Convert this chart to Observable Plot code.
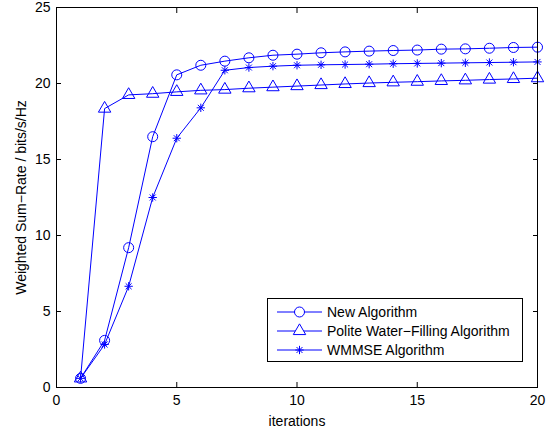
<!DOCTYPE html>
<html><head><meta charset="utf-8">
<script src="https://cdn.jsdelivr.net/npm/d3@7"></script>
<script src="https://cdn.jsdelivr.net/npm/@observablehq/plot@0.6"></script>
<style>
body{margin:0;background:#fff}
#wrap{position:relative;width:559px;height:430px;font-family:"Liberation Sans",Arial,Helvetica,sans-serif}
#legend{position:absolute;left:267px;top:298px}
</style>
</head><body><div id="wrap"></div>
<script>
const iterations = [1,2,3,4,5,6,7,8,9,10,11,12,13,14,15,16,17,18,19,20];
const seriesNames = ["New Algorithm", "Polite Water\u2212Filling Algorithm", "WMMSE Algorithm"];
const newAlgorithm = [0.6,3.1,9.2,16.5,20.57,21.2,21.47,21.69,21.86,21.93,22.02,22.08,22.13,22.17,22.2,22.26,22.28,22.32,22.37,22.39];
const politeWaterFilling = [0.6,18.35,19.25,19.33,19.45,19.55,19.6,19.69,19.76,19.83,19.9,19.97,20.03,20.08,20.12,20.17,20.21,20.26,20.3,20.35];
const wmmse = [0.6,2.83,6.66,12.5,16.4,18.4,20.87,21.05,21.14,21.2,21.23,21.25,21.27,21.3,21.32,21.34,21.36,21.38,21.4,21.42];
const xTicks = [0,5,10,15,20];
const yTicks = [0,5,10,15,20,25];
const xLabel = "iterations";
const yLabel = "Weighted Sum\u2212Rate / bits/s/Hz";

const blue = "#0000ff";
const seriesValues = [newAlgorithm, politeWaterFilling, wmmse];
const rows = [];
seriesNames.forEach((s, i) => iterations.forEach((x, j) => rows.push({series: s, x, y: seriesValues[i][j]})));
const bySeries = s => rows.filter(d => d.series === s);
const blank = () => "";

const plot = Plot.plot({
  width: 559, height: 430,
  marginLeft: 56, marginRight: 22, marginTop: 7, marginBottom: 43,
  style: {fontFamily: "'Liberation Sans', Arial, Helvetica, sans-serif", fontSize: "14px", color: "black", background: "white"},
  x: {domain: [0, 20]},
  y: {domain: [0, 25]},
  marks: [
    Plot.line(rows, {x: "x", y: "y", z: "series", stroke: blue, strokeWidth: 1}),
    Plot.dot(bySeries(seriesNames[0]), {x: "x", y: "y", symbol: "circle", r: 5, stroke: blue, fill: "none", strokeWidth: 1}),
    Plot.dot(bySeries(seriesNames[1]), {x: "x", y: "y", symbol: "triangle", r: 4.6, stroke: blue, fill: "none", strokeWidth: 1}),
    Plot.dot(bySeries(seriesNames[2]), {x: "x", y: "y", symbol: "plus", r: 2.8, stroke: blue, fill: "none", strokeWidth: 1}),
    Plot.dot(bySeries(seriesNames[2]), {x: "x", y: "y", symbol: "times", r: 2.8, stroke: blue, fill: "none", strokeWidth: 1}),
    Plot.frame({stroke: "black", strokeWidth: 1}),
    Plot.axisX({ticks: xTicks, anchor: "bottom", tickSize: -5, tickFormat: blank, label: null, stroke: "black"}),
    Plot.axisX({ticks: xTicks, anchor: "top", tickSize: -5, tickFormat: blank, label: null, stroke: "black"}),
    Plot.axisY({ticks: yTicks, anchor: "left", tickSize: -5, tickFormat: blank, label: null, stroke: "black"}),
    Plot.axisY({ticks: yTicks, anchor: "right", tickSize: -5, tickFormat: blank, label: null, stroke: "black"}),
    Plot.axisX({ticks: xTicks, anchor: "bottom", tickSize: 0, tickPadding: 8, fill: "black", fontSize: 14,
      label: xLabel, labelAnchor: "center", labelArrow: "none", labelOffset: 38}),
    Plot.axisY({ticks: yTicks, anchor: "left", tickSize: 0, tickPadding: 6, fill: "black", fontSize: 14,
      label: yLabel, labelAnchor: "center", labelArrow: "none", labelOffset: 40})
  ]
});
document.getElementById("wrap").appendChild(plot);

// legend
const lw = 256, lh = 64;
const leg = d3.select("#wrap").append("svg").attr("id", "legend").attr("width", lw).attr("height", lh);
leg.append("rect").attr("x", 0.5).attr("y", 0.5).attr("width", lw - 1).attr("height", lh - 1).attr("fill", "white").attr("stroke", "black");
seriesNames.forEach((name, i) => {
  const y = 14 + i * 19;
  const g = leg.append("g").attr("transform", `translate(0,${y})`);
  g.append("line").attr("x1", 10).attr("x2", 55).attr("y1", 0).attr("y2", 0).attr("stroke", blue);
  if (i === 0) {
    g.append("path").attr("d", d3.symbol(d3.symbolCircle, Math.PI * 25)()).attr("transform", "translate(32.5,0)").attr("fill", "white").attr("stroke", blue);
  } else if (i === 1) {
    g.append("path").attr("d", d3.symbol(d3.symbolTriangle, Math.PI * 4.6 * 4.6)()).attr("transform", "translate(32.5,0)").attr("fill", "white").attr("stroke", blue);
  } else {
    const sz = Math.PI * 2.8 * 2.8;
    g.append("path").attr("d", d3.symbol(d3.symbolPlus, sz)()).attr("transform", "translate(32.5,0)").attr("fill", "none").attr("stroke", blue);
    g.append("path").attr("d", d3.symbol(d3.symbolTimes, sz)()).attr("transform", "translate(32.5,0)").attr("fill", "none").attr("stroke", blue);
  }
  g.append("text").attr("x", 60).attr("y", 5).attr("font-size", 14).attr("fill", "black").text(name);
});
</script>
</body></html>
